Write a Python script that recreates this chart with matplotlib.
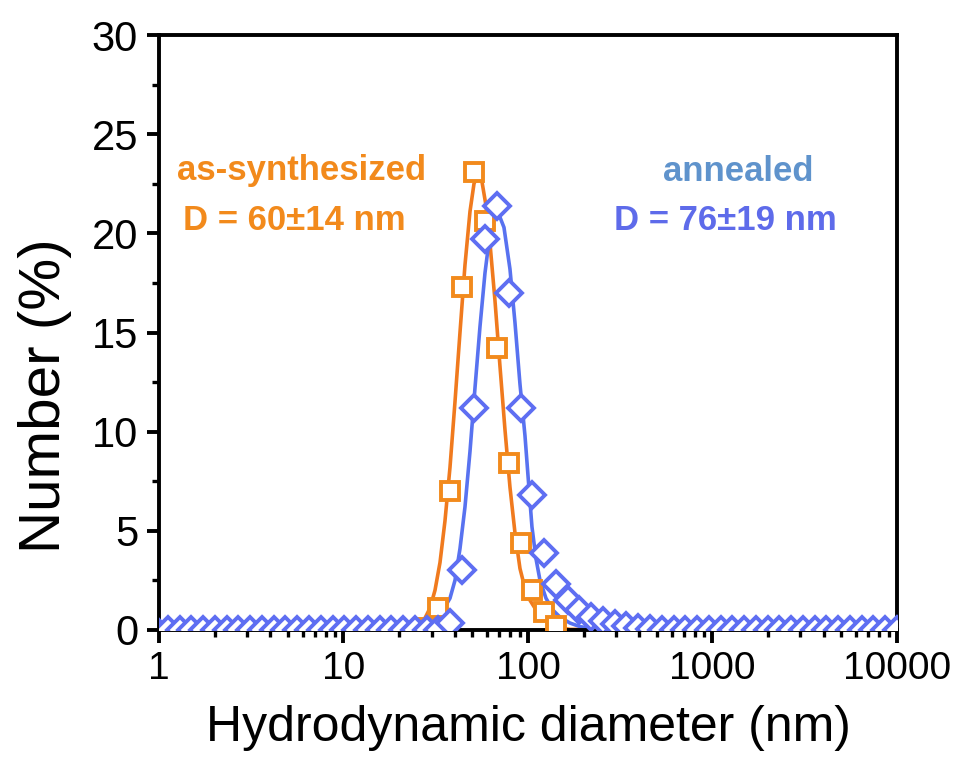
import matplotlib
matplotlib.use('Agg')
from matplotlib import pyplot as plt
from matplotlib.ticker import MultipleLocator, LogLocator, NullFormatter

# size bins of the instrument (nm)
bins = [0.9649, 1.117, 1.294, 1.499, 1.736, 2.010, 2.328, 2.696, 3.122, 3.615,
        4.187, 4.849, 5.615, 6.503, 7.531, 8.721, 10.10, 11.70, 13.54, 15.69,
        18.17, 21.04, 24.36, 28.21, 32.67, 37.84, 43.82, 50.75, 58.77, 68.06,
        78.82, 91.28, 105.7, 122.4, 141.8, 164.2, 190.1, 220.2, 255.0, 295.3,
        342.0, 396.1, 458.7, 531.2, 615.1, 712.4, 825.0, 955.4, 1106, 1281,
        1484, 1718, 1990, 2305, 2669, 3091, 3580, 4145, 4801, 5560, 6439, 7456,
        8635, 10000]

# annealed, number % per bin
annealed = [0] * 25 + [0.35, 3.0, 11.2, 19.7, 21.4, 17.0, 11.2, 6.8, 3.9, 2.3,
                       1.5, 1.0, 0.65, 0.45, 0.3, 0.2, 0.1, 0.05] + [0] * 21

# as-synthesized, only the non-zero part of the distribution
syn_d = [28.21, 32.67, 37.84, 43.82, 50.75, 58.77, 68.06, 78.82, 91.28, 105.7, 122.4, 141.8]
syn_n = [0.1, 1.1, 7.0, 17.3, 23.1, 20.6, 14.2, 8.4, 4.4, 2.0, 0.9, 0.2]

# fitted curves
syn_fit_d = [1.0, 20.24, 22.93, 25.98, 27.65, 29.43, 31.33, 33.35, 35.49, 37.78,
             40.21, 42.80, 45.55, 48.49, 50.97, 53.58, 56.33, 59.21, 62.24, 66.25,
             70.50, 75.04, 79.87, 85.02, 90.49, 96.32, 102.5, 109.1, 116.2, 123.6,
             131.6, 149.1, 168.9, 10000]
syn_fit_n = [0, 0.02, 0.1, 0.42, 0.6, 1.1, 2.0, 3.4, 5.5, 8.2,
             11.5, 15.0, 18.4, 21.1, 22.5, 23.0, 22.6, 21.4, 19.5, 16.6,
             13.3, 10.1, 7.2, 4.9, 3.1, 2.1, 1.5, 1.1, 0.8, 0.55,
             0.35, 0.12, 0.03, 0]

ann_fit_d = [1.0, 22.93, 25.98, 28.35, 31.33, 34.62, 37.78, 40.21, 42.80, 45.55,
             48.49, 51.61, 54.94, 58.47, 62.24, 67.92, 74.11, 79.87, 85.02, 90.49,
             96.32, 100.0, 105.1, 110.5, 116.2, 125.2, 136.6, 149.1, 168.9, 191.3,
             230.8, 278.3, 10000]
ann_fit_n = [0, 0.05, 0.18, 0.35, 0.62, 1.0, 1.6, 2.5, 4.1, 6.2,
             9.0, 12.2, 15.3, 18.0, 20.0, 21.2, 20.3, 18.2, 15.5, 12.4,
             9.8, 7.8, 5.2, 3.6, 2.5, 1.6, 1.0, 0.65, 0.35, 0.17,
             0.05, 0, 0]

ORANGE = '#F28A1C'
ORANGE_LINE = '#F07A1E'
BLUE = '#5E6EF2'
BLUE_LINE = '#5872F0'

SANS = ['Liberation Sans', 'DejaVu Sans']

fig = plt.figure(figsize=(9.59, 7.65), dpi=100)
ax = fig.add_axes([0.1658, 0.1765, 0.7695, 0.7777])

ax.plot(syn_fit_d, syn_fit_n, color=ORANGE_LINE, lw=2.6, zorder=2)
ax.plot(ann_fit_d, ann_fit_n, color=BLUE_LINE, lw=2.6, zorder=2)
ax.plot(syn_d, syn_n, ls='none', marker='s', ms=12.5, mfc='white', mec=ORANGE,
        mew=2.8, zorder=3)
ax.plot(bins, annealed, ls='none', marker='D', ms=13, mfc='white', mec=BLUE,
        mew=2.8, zorder=4)

ax.set_xscale('log')
ax.set_xlim(1, 10000)
ax.set_ylim(0, 30)
ax.set_xticks([1, 10, 100, 1000, 10000])
ax.set_xticklabels(['1', '10', '100', '1000', '10000'])
ax.xaxis.set_minor_locator(LogLocator(base=10, subs=range(2, 10)))
ax.xaxis.set_minor_formatter(NullFormatter())
ax.yaxis.set_major_locator(MultipleLocator(5))
ax.yaxis.set_minor_locator(MultipleLocator(2.5))

for s in ax.spines.values():
    s.set_linewidth(2.8)
ax.tick_params(which='major', direction='out', length=9, width=2.8, pad=6,
               top=False, right=False)
ax.tick_params(which='minor', direction='out', length=5, width=2.4,
               top=False, right=False)
for lab in ax.get_xticklabels():
    lab.set_family(SANS)
    lab.set_fontsize(28)
for lab in ax.get_yticklabels():
    lab.set_family(SANS)
    lab.set_fontsize(30)

fig.text(528 / 959, 1 - 728 / 765, 'Hydrodynamic diameter (nm)', family=SANS,
         fontsize=36, ha='center', va='center')
fig.text(45 / 959, 1 - 396 / 765, 'Number (%)', family=SANS, fontsize=42,
         rotation=90, ha='center', va='center')

ax.text(0.025, 0.772, 'as-synthesized', transform=ax.transAxes, color=ORANGE,
        fontsize=25, fontweight='bold', family=SANS, ha='left', va='center')
ax.text(0.032, 0.688, 'D = 60\u00b114 nm', transform=ax.transAxes, color=ORANGE,
        fontsize=25, fontweight='bold', family=SANS, ha='left', va='center')
ax.text(0.785, 0.77, 'annealed', transform=ax.transAxes, color='#5F93CC',
        fontsize=25, fontweight='bold', family=SANS, ha='center', va='center')
ax.text(0.767, 0.688, 'D = 76\u00b119 nm', transform=ax.transAxes, color='#5E6BEA',
        fontsize=25, fontweight='bold', family=SANS, ha='center', va='center')

fig.savefig('out.png', dpi=100)
